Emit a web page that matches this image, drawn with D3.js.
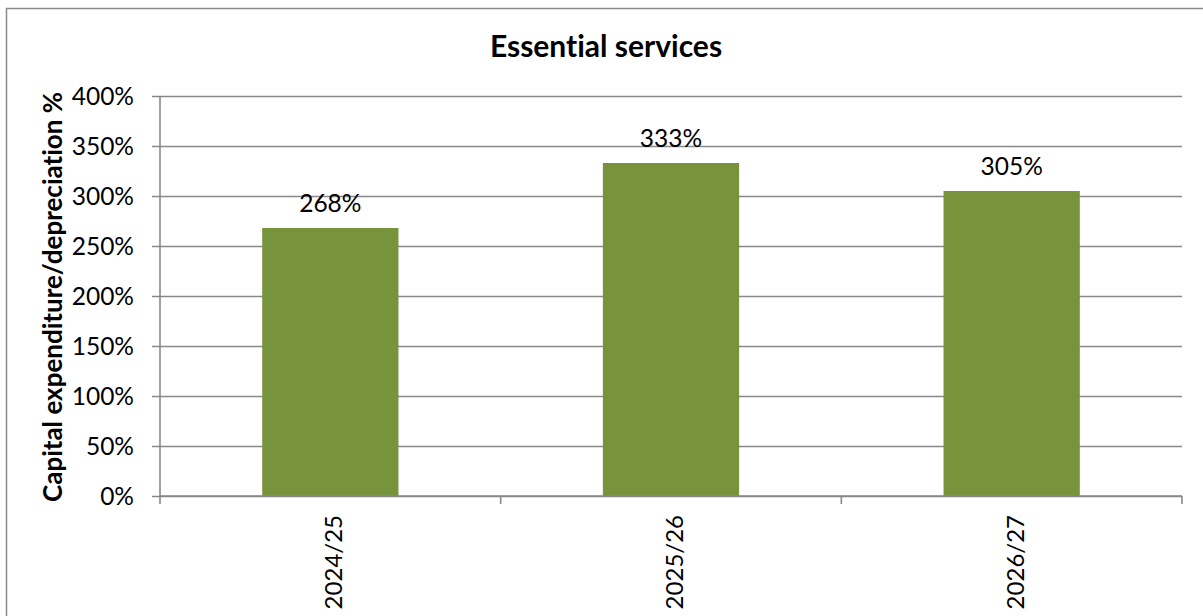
<!DOCTYPE html>
<html>
<head>
<meta charset="utf-8">
<script src="https://cdn.jsdelivr.net/npm/d3@7"></script>
<style>
  html, body { margin: 0; padding: 0; background: #fff; }
  svg { display: block; }
  text { font-family: Lato, "Open Sans", sans-serif; fill: #000; font-variant-ligatures: none; }
</style>
</head>
<body>
<svg id="chart" width="1203" height="616"></svg>
<script>
// Capital expenditure as a share of depreciation, by financial year
const categories = ["2024/25", "2025/26", "2026/27"];
const values = [2.68, 3.33, 3.05];
const valueLabels = ["268%", "333%", "305%"];
const yTicks = [0, 0.5, 1, 1.5, 2, 2.5, 3, 3.5, 4];
const titleText = "Essential services";
const yTitleText = "Capital expenditure/depreciation %";

const W = 1203, H = 616;
const plot = { left: 160, right: 1182, top: 96, bottom: 496 };
const gridColor = "#898989";
const barColor = "#77933C";

const svg = d3.select("#chart");

svg.append("rect").attr("width", W).attr("height", H).attr("fill", "#fff");

// outer chart frame (continues past the right and bottom edges)
svg.append("rect")
  .attr("x", 6.5).attr("y", 8.5)
  .attr("width", W + 20).attr("height", H + 20)
  .attr("fill", "none").attr("stroke", "#8a8a8a").attr("stroke-width", 1.5);

const x = d3.scaleBand()
  .domain(categories)
  .range([plot.left, plot.right])
  .paddingInner(0.6)
  .paddingOuter(0.3);

const y = d3.scaleLinear().domain([0, 4]).range([plot.bottom, plot.top]);

const pct = d3.format(".0%");

// horizontal gridlines + y axis labels
const yAxis = d3.axisLeft(y)
  .tickValues(yTicks)
  .tickFormat(pct)
  .tickSize(-(plot.right - plot.left))
  .tickPadding(26);

const gy = svg.append("g")
  .attr("transform", `translate(${plot.left},0)`)
  .call(yAxis);
gy.select(".domain").remove();
gy.selectAll(".tick line")
  .attr("x1", -8)
  .attr("stroke", gridColor).attr("stroke-width", 1.6);
gy.selectAll(".tick text")
  .attr("dy", null)
  .attr("y", 8.5)
  .style("font-size", "24.5px")
  .style("font-family", "Lato, sans-serif")
  .attr("fill", "#000");

// vertical axis line
svg.append("line")
  .attr("x1", plot.left).attr("x2", plot.left)
  .attr("y1", plot.top).attr("y2", plot.bottom)
  .attr("stroke", gridColor).attr("stroke-width", 1.6);

// bars
svg.append("g").selectAll("rect")
  .data(values)
  .join("rect")
  .attr("x", (d, i) => x(categories[i]))
  .attr("width", x.bandwidth())
  .attr("y", d => y(d))
  .attr("height", d => y(0) - y(d))
  .attr("fill", barColor);

// value labels
svg.append("g").selectAll("text")
  .data(values)
  .join("text")
  .attr("x", (d, i) => x(categories[i]) + x.bandwidth() / 2)
  .attr("y", d => y(d) - 16)
  .attr("text-anchor", "middle")
  .style("font-size", "24.5px")
  .text((d, i) => valueLabels[i]);

// category axis with tick marks on the category boundaries
const boundaries = d3.range(categories.length + 1).map(i => plot.left + i * (plot.right - plot.left) / categories.length);
svg.append("line")
  .attr("x1", plot.left).attr("x2", plot.right)
  .attr("y1", plot.bottom).attr("y2", plot.bottom)
  .attr("stroke", gridColor).attr("stroke-width", 1.6);
svg.append("g").selectAll("line")
  .data(boundaries)
  .join("line")
  .attr("x1", d => d).attr("x2", d => d)
  .attr("y1", plot.bottom).attr("y2", plot.bottom + 8)
  .attr("stroke", gridColor).attr("stroke-width", 1.6);

svg.append("g").selectAll("text")
  .data(categories)
  .join("text")
  .attr("transform", d => `translate(${x(d) + x.bandwidth() / 2 + 12},${plot.bottom + 19}) rotate(-90)`)
  .attr("text-anchor", "end")
  .style("font-size", "24px")
  .text(d => d);

// title
svg.append("text")
  .attr("x", 606).attr("y", 57)
  .attr("text-anchor", "middle")
  .style("font-size", "30px")
  .style("font-weight", "bold")
  .text(titleText);

// y axis title
svg.append("text")
  .attr("transform", `translate(62,297) rotate(-90)`)
  .attr("text-anchor", "middle")
  .style("font-size", "26px")
  .style("font-weight", "bold")
  .text(yTitleText);
</script>
</body>
</html>
